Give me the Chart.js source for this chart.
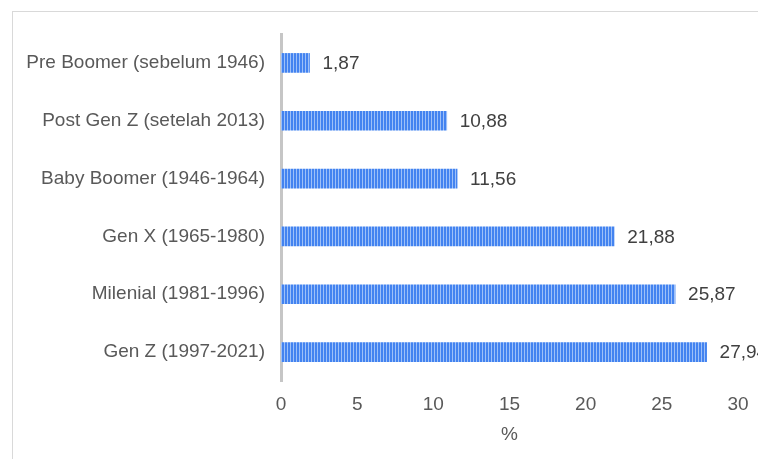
<!DOCTYPE html>
<html>
<head>
<meta charset="utf-8">
<script src="https://cdn.jsdelivr.net/npm/chart.js@4/dist/chart.umd.min.js"></script>
<style>
  html, body { margin: 0; padding: 0; background: #ffffff; overflow: hidden; }
  #wrap { position: relative; width: 758px; height: 459px; }
  #frame { position: absolute; left: 12px; top: 11px; width: 800px; height: 500px;
           border: 1px solid #d9d9d9; box-sizing: border-box; }
  canvas { position: absolute; left: 0; top: 0; }
</style>
</head>
<body>
<div id="wrap">
  <div id="frame"></div>
  <canvas id="chart" width="758" height="459"></canvas>
</div>
<script>
// Generations and their share (%)
const categories = [
  'Pre Boomer (sebelum 1946)',
  'Post Gen Z (setelah 2013)',
  'Baby Boomer (1946-1964)',
  'Gen X (1965-1980)',
  'Milenial (1981-1996)',
  'Gen Z (1997-2021)'
];
const shares = [1.87, 10.88, 11.56, 21.88, 25.87, 27.94];
const xTicks = [0, 5, 10, 15, 20, 25, 30];

const FONT = '"Liberation Sans", Arial, sans-serif';

// Vertical-stripe fill for the bars
function stripeFill(ctx) {
  const tile = document.createElement('canvas');
  tile.width = 3; tile.height = 4;
  const t = tile.getContext('2d');
  t.fillStyle = '#4383f0';
  t.fillRect(0, 0, 3, 4);
  t.fillStyle = '#9dc0f8';
  t.fillRect(2, 0, 1, 4);
  return ctx.createPattern(tile, 'repeat');
}

const fmt = v => v.toFixed(2).replace('.', ',');

// Value labels at the end of each bar
const valueLabels = {
  id: 'valueLabels',
  afterDatasetsDraw(chart) {
    const ctx = chart.ctx;
    const meta = chart.getDatasetMeta(0);
    ctx.save();
    ctx.font = '19px ' + FONT;
    ctx.fillStyle = '#404040';
    ctx.textAlign = 'left';
    ctx.textBaseline = 'middle';
    meta.data.forEach((bar, i) => {
      ctx.fillText(fmt(shares[i]), bar.x + 13, bar.y + 1);
    });
    ctx.restore();
  }
};

const canvas = document.getElementById('chart');
const ctx = canvas.getContext('2d');

new Chart(ctx, {
  type: 'bar',
  data: {
    labels: categories,
    datasets: [{
      data: shares,
      backgroundColor: stripeFill(ctx),
      borderWidth: 0,
      barThickness: 19
    }]
  },
  options: {
    indexAxis: 'y',
    responsive: false,
    animation: false,
    layout: { padding: { top: 34, right: 20, bottom: 13, left: 0 } },
    plugins: { legend: { display: false }, tooltip: { enabled: false } },
    scales: {
      y: {
        afterFit(scale) { scale.width = 281; },
        grid: { display: false, drawTicks: false },
        border: { display: true, color: '#c6c6c6', width: 3 },
        ticks: {
          padding: 16,
          color: '#595959',
          font: { family: FONT, size: 19 }
        }
      },
      x: {
        min: 0, max: 30,
        afterBuildTicks(scale) { scale.ticks = xTicks.map(v => ({ value: v })); },
        afterFit(scale) {
          scale.height = 65;
          scale.paddingLeft = 0;
          scale.paddingRight = 0;
        },
        grid: { display: false, drawTicks: false },
        border: { display: false },
        ticks: {
          padding: 12,
          maxRotation: 0,
          color: '#595959',
          font: { family: FONT, size: 19 }
        },
        title: {
          display: true,
          text: '%',
          color: '#595959',
          font: { family: FONT, size: 19 },
          padding: { top: 7, bottom: 0 }
        }
      }
    }
  },
  plugins: [valueLabels]
});
</script>
</body>
</html>
